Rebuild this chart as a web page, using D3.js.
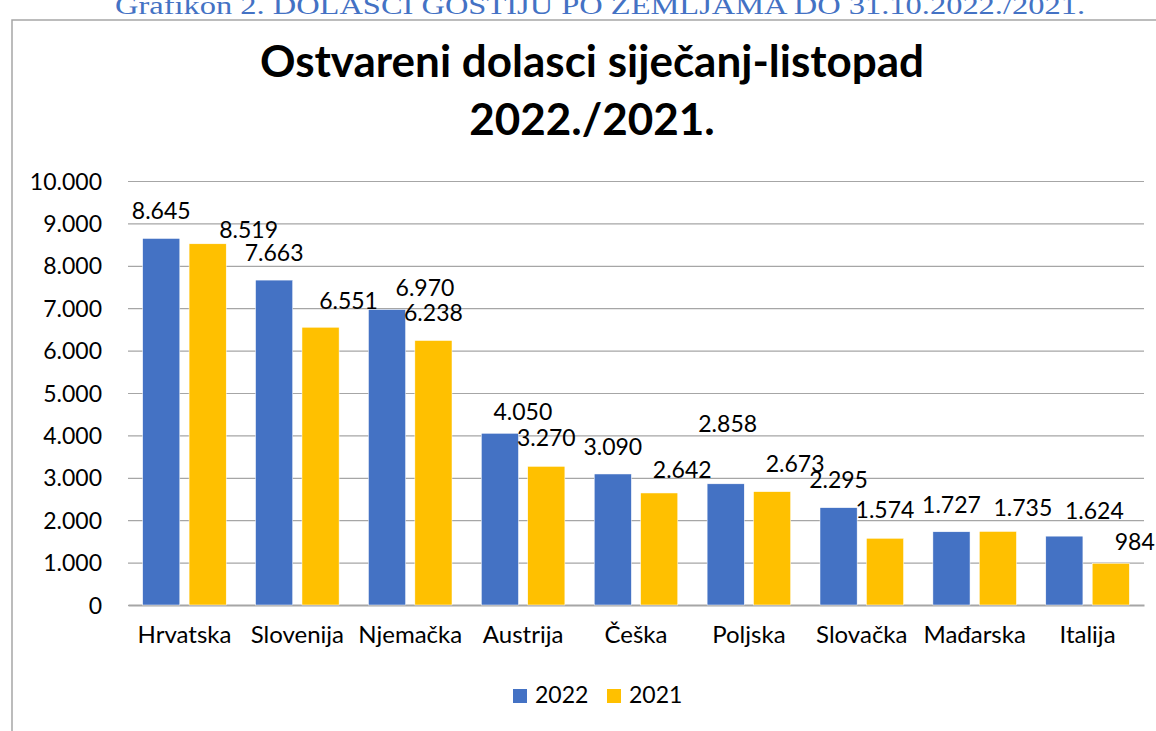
<!DOCTYPE html>
<html>
<head>
<meta charset="utf-8">
<script src="https://cdn.jsdelivr.net/npm/d3@7"></script>
<style>
	body { margin: 0; background: #fff; }
	text { font-family: Lato, "Open Sans", sans-serif; fill: #000; }
</style>
</head>
<body>
<svg id="chart" width="1156" height="731"></svg>
<script>
// data
var countries = ['Hrvatska', 'Slovenija', 'Njemačka', 'Austrija', 'Češka', 'Poljska', 'Slovačka', 'Mađarska', 'Italija'];
var values2022 = [8645, 7663, 6970, 4050, 3090, 2858, 2295, 1727, 1624];
var values2021 = [8519, 6551, 6238, 3270, 2642, 2673, 1574, 1735, 984];
var seriesNames = ['2022', '2021'];
var yTicks = [0, 1000, 2000, 3000, 4000, 5000, 6000, 7000, 8000, 9000, 10000];

// label nudges (layout only, labels were moved by hand in the original)
var nudgeX2022 = [0, 0, 38, 23, 0, 2, 0, 0, 30];
var nudgeY2022 = [-19, -19, -13, -13, -19, -52, -20, -19, -17];
var nudgeX2021 = [41, 28, 0, 0, 23, 23, 0, 25, 24];
var nudgeY2021 = [-6, -18, -20, -20, -15, -20, -20, -15, -13];

var colors = ['#4472C4', '#FFC000'];
var fmt = function(v){ return d3.format(',')(v).replace(/,/g, '.'); };

var svg = d3.select('#chart');
var plot = {left: 128, right: 1144, top: 181, bottom: 605};

var x = d3.scaleBand()
	.domain(countries)
	.range([plot.left, plot.right])
	.paddingInner(0)
	.paddingOuter(0);
var x1 = d3.scaleBand()
	.domain(seriesNames)
	.range([x.bandwidth() * 0.13, x.bandwidth() * 0.87])
	.paddingInner(0.2);
var y = d3.scaleLinear()
	.domain([0, 10000])
	.range([plot.bottom, plot.top]);

addFrame = function(){
	svg.append('path')
		.attr('d', 'M12,731 V20 H1156')
		.attr('fill', 'none')
		.attr('stroke', '#a6a6a6')
		.attr('stroke-width', 1.5);
	// heading of the document above the chart, cut off at the top edge
	svg.append('text')
		.attr('x', 600)
		.attr('y', 14)
		.attr('text-anchor', 'middle')
		.attr('textLength', 970)
		.attr('lengthAdjust', 'spacingAndGlyphs')
		.style('font-family', '"Liberation Serif", "DejaVu Serif", serif')
		.style('font-size', '25px')
		.style('fill', '#4472C4')
		.text('Grafikon 2. DOLASCI GOSTIJU PO ZEMLJAMA DO 31.10.2022./2021.');
};

addTitle = function(){
	var t = svg.append('g').attr('id', 'titleG');
	t.append('text')
		.attr('x', 592)
		.attr('y', 77)
		.attr('text-anchor', 'middle')
		.style('font-size', '44px')
		.style('font-weight', 'bold')
		.text('Ostvareni dolasci siječanj-listopad');
	t.append('text')
		.attr('x', 592)
		.attr('y', 135)
		.attr('text-anchor', 'middle')
		.style('font-size', '44px')
		.style('font-weight', 'bold')
		.text('2022./2021.');
};

addAxes = function(){
	var yAxis = svg.append('g')
		.attr('id', 'yAxisG')
		.attr('transform', 'translate(' + plot.left + ',0)')
		.call(d3.axisLeft(y)
			.tickValues(yTicks)
			.tickSize(-(plot.right - plot.left))
			.tickPadding(26)
			.tickFormat(fmt));
	yAxis.select('.domain').remove();
	yAxis.selectAll('.tick line')
		.attr('stroke', '#a6a6a6')
		.attr('stroke-width', 1.2);
	yAxis.selectAll('.tick text')
		.style('font-size', '23px')
		.style('font-family', 'Lato, sans-serif')
		.attr('dy', '0.35em');

	var xAxis = svg.append('g')
		.attr('id', 'xAxisG')
		.attr('transform', 'translate(0,' + plot.bottom + ')')
		.call(d3.axisBottom(x).tickSize(0).tickPadding(21));
	xAxis.select('.domain')
		.attr('stroke', '#a6a6a6')
		.attr('stroke-width', 2);
	xAxis.selectAll('.tick text')
		.style('font-size', '24px')
		.style('font-family', 'Lato, sans-serif');
};

addBars = function(){
	var rows = countries.map(function(c, i){
		return {country: c, i: i, vals: [
			{s: '2022', v: values2022[i], dx: nudgeX2022[i], dy: nudgeY2022[i], c: colors[0]},
			{s: '2021', v: values2021[i], dx: nudgeX2021[i], dy: nudgeY2021[i], c: colors[1]}
		]};
	});
	var g = svg.append('g')
		.attr('id', 'barsG')
		.selectAll('g')
		.data(rows)
		.enter()
		.append('g')
		.attr('transform', function(d){ return 'translate(' + x(d.country) + ',0)'; });
	g.selectAll('rect')
		.data(function(d){ return d.vals; })
		.enter()
		.append('rect')
		.attr('x', function(d){ return x1(d.s); })
		.attr('y', function(d){ return y(d.v); })
		.attr('width', x1.bandwidth())
		.attr('height', function(d){ return y(0) - y(d.v); })
		.attr('fill', function(d){ return d.c; })
		.attr('stroke', '#fff')
		.attr('stroke-width', 0.5);
	g.selectAll('text')
		.data(function(d){ return d.vals; })
		.enter()
		.append('text')
		.attr('x', function(d){ return x1(d.s) + x1.bandwidth() / 2 + d.dx; })
		.attr('y', function(d){ return y(d.v) + d.dy; })
		.attr('text-anchor', 'middle')
		.style('font-size', '23px')
		.text(function(d){ return fmt(d.v); });
};

addLegend = function(){
	var lg = svg.append('g')
		.attr('id', 'legendG')
		.selectAll('g')
		.data(seriesNames)
		.enter()
		.append('g')
		.attr('transform', function(d, i){ return 'translate(' + (513 + i * 94) + ',689)'; });
	lg.append('rect')
		.attr('width', 14)
		.attr('height', 14)
		.attr('fill', function(d, i){ return colors[i]; });
	lg.append('text')
		.attr('x', 22)
		.attr('y', 14)
		.style('font-size', '23px')
		.text(function(d){ return d; });
};

addFrame();
addTitle();
addAxes();
addBars();
addLegend();
</script>
</body>
</html>
